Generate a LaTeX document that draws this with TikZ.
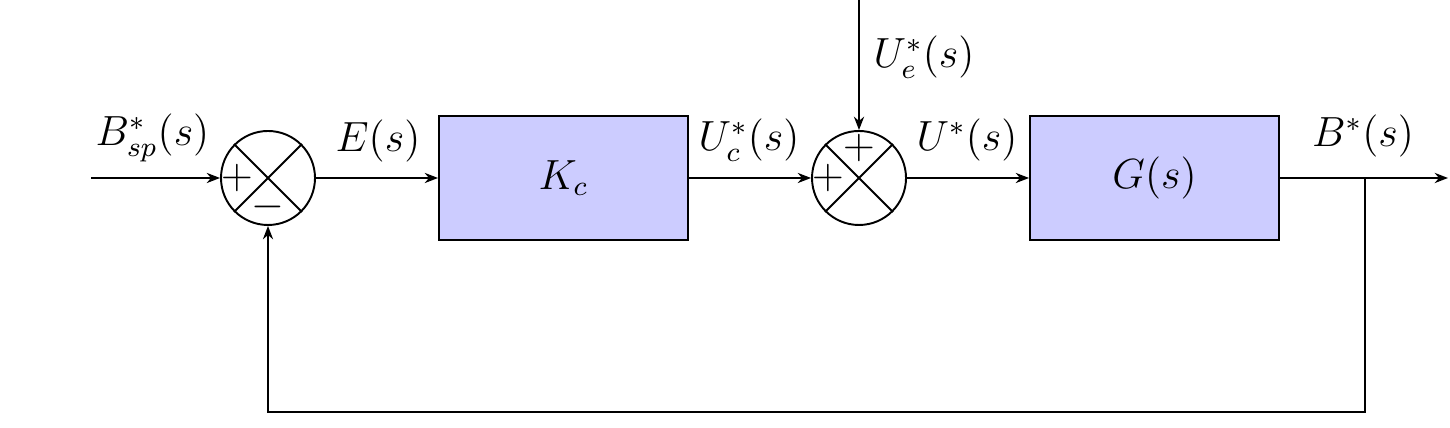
\documentclass[tikz,border=0pt]{standalone}
\usetikzlibrary{arrows.meta,calc}
\begin{document}
\begin{tikzpicture}[
  line width=0.55pt,
  >={Stealth[length=3.8pt,width=2.9pt]},
  blockbox/.style={draw, fill=blue!20, minimum width=2.49cm, minimum height=1.24cm, inner sep=0pt, font=\fontsize{12}{14}\selectfont},
  sumnode/.style={draw, circle, minimum size=0.94cm, inner sep=0pt},
  lbl/.style={anchor=base, inner sep=0pt, font=\fontsize{12}{14}\selectfont},
  sgn/.style={inner sep=0pt, font=\fontsize{12.5}{14}\selectfont}
]
\useasboundingbox (0,0) rectangle (14.5,4.28);

\node[sumnode] (s1) at (2.68,2.50) {};
\draw (s1.north west) -- (s1.south east) (s1.north east) -- (s1.south west);
\node[blockbox] (kc) at (5.635,2.50) {$K_c$};
\node[sumnode] (s2) at (8.59,2.50) {};
\draw (s2.north west) -- (s2.south east) (s2.north east) -- (s2.south west);
\node[blockbox] (g) at (11.545,2.50) {$G(s)$};

\coordinate (in) at (0.91,2.50);
\coordinate (ue) at (8.59,4.28);
\coordinate (out) at (14.48,2.50);
\coordinate (br) at (13.65,2.50);
\coordinate (fb1) at (13.65,0.16);
\coordinate (fb2) at (2.68,0.16);

\node[sgn] (p1) at (2.37,2.50) {$+$};
\node[sgn] (m1) at (2.68,2.21) {$-$};
\node[sgn] (p2) at (8.59,2.80) {$+$};
\node[sgn] (p3) at (8.28,2.50) {$+$};

\draw[->] (in) -- (s1.west);
\draw[->] (s1.east) -- (kc.west);
\draw[->] (kc.east) -- (s2.west);
\draw[->] (ue) -- (s2.north);
\draw[->] (s2.east) -- (g.west);
\draw[->] (g.east) -- (out);
\draw[->] (br) -- (fb1) -- (fb2) -- (s1.south);

\node[lbl] (lbsp) at (1.525,2.82) {$B^*_{sp}(s)$};
\node[lbl] (le) at (3.78,2.76) {$E(s)$};
\node[lbl] (luc) at (7.49,2.77) {$U^*_c(s)$};
\node[lbl] (lue) at (9.24,3.60) {$U^*_e(s)$};
\node[lbl] (lu) at (9.67,2.77) {$U^*(s)$};
\node[lbl] (lb) at (13.63,2.81) {$B^*(s)$};
\end{tikzpicture}
\end{document}
